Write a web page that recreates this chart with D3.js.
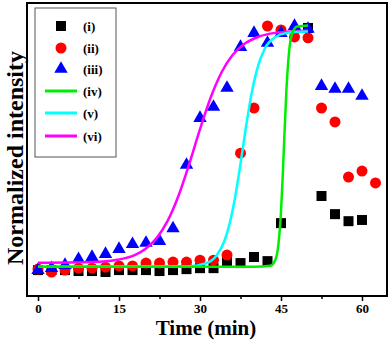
<!DOCTYPE html>
<html>
<head>
<meta charset="utf-8">
<script src="https://cdn.jsdelivr.net/npm/d3@7"></script>
<style>
  body { margin: 0; background: #fff; }
  svg text { font-family: "Liberation Serif", "Times New Roman", serif; font-weight: bold; }
</style>
</head>
<body>
<div id="chart"></div>
<script>
// measured points, time in min
var times = [0, 2.5, 5, 7.5, 10, 12.5, 15, 17.5, 20, 22.5, 25, 27.5, 30, 32.5, 35, 37.5, 40, 42.5, 45, 47.5, 50, 52.5, 55, 57.5, 60, 62.5];
var seriesI = [0, 0, 0, -0.004, -0.004, -0.008, 0, 0, 0, -0.004, 0, 0.004, 0.008, 0.008, 0.033, 0.029, 0.054, 0.037, 0.194, null, 1.0, 0.306, 0.231, 0.202, 0.207, null];
var seriesII = [0.004, -0.008, 0, 0.008, 0.008, 0.012, 0.017, 0.017, 0.029, 0.029, 0.033, 0.033, 0.041, 0.041, 0.062, 0.483, 0.669, 1.008, 0.992, 0.963, 0.959, 0.669, 0.612, 0.384, 0.409, 0.36];
var seriesIII = [0, 0.008, 0.021, 0.045, 0.054, 0.066, 0.087, 0.107, 0.112, 0.12, 0.172, 0.434, 0.628, 0.674, 0.752, 0.921, 0.979, 0.938, 0.979, 1.008, 0.996, 0.76, 0.748, 0.748, 0.719, null];

// fitted curves
var fitIVt = [0, 40, 43, 44, 44.5, 45, 45.3, 45.6, 46, 46.5, 47, 48, 50];
var fitIV = [0.014, 0.014, 0.018, 0.045, 0.102, 0.241, 0.378, 0.54, 0.742, 0.902, 0.972, 1.006, 1.01];
var fitVt = [0, 28, 31, 33, 34.5, 35.5, 36.5, 37.5, 38.5, 39.5, 40.5, 42, 44, 46, 50];
var fitV = [0.014, 0.016, 0.027, 0.058, 0.119, 0.193, 0.301, 0.439, 0.589, 0.723, 0.824, 0.915, 0.963, 0.979, 0.985];
var fitVIt = [0, 10, 15, 18, 20, 22, 24, 26, 28, 30, 32, 34, 36, 38, 41, 44, 47, 50];
var fitVI = [0.03, 0.033, 0.044, 0.063, 0.089, 0.133, 0.203, 0.306, 0.438, 0.582, 0.714, 0.817, 0.887, 0.931, 0.965, 0.98, 0.986, 0.988];

var xTicks = [0, 15, 30, 45, 60];
var xMinor = [7.5, 22.5, 37.5, 52.5];
var legendLabels = ["(i)", "(ii)", "(iii)", "(iv)", "(v)", "(vi)"];

var W = 392, H = 342;
var plot = { left: 27, right: 387, top: 3, bottom: 296 };

var svg = d3.select("#chart").append("svg").attr("width", W).attr("height", H);

var x = d3.scaleLinear().domain([-2.04, 64.63]).range([plot.left, plot.right]);
var y = d3.scaleLinear().domain([-0.107, 1.103]).range([plot.bottom, plot.top]);

function pairs(ts, vs) {
  return ts.map(function (t, i) { return { t: t, v: vs[i] }; }).filter(function (d) { return d.v != null; });
}

// x axis
var xAxis = d3.axisBottom(x).tickValues(xTicks).tickSize(5).tickPadding(3);
var gx = svg.append("g").attr("transform", "translate(0," + plot.bottom + ")").call(xAxis);
gx.select(".domain").remove();
gx.selectAll(".tick line").attr("stroke", "#000").attr("stroke-width", 1.5);
gx.selectAll(".tick text").attr("font-size", 13).attr("fill", "#000")
  .style("font-family", "'Liberation Serif', serif").style("font-weight", "bold");
var gm = svg.append("g").attr("transform", "translate(0," + plot.bottom + ")")
  .call(d3.axisBottom(x).tickValues(xMinor).tickSize(3).tickFormat(""));
gm.select(".domain").remove();
gm.selectAll(".tick line").attr("stroke", "#000").attr("stroke-width", 1.5);

// markers
var sq = d3.symbol().type(d3.symbolSquare).size(100);
var tri = d3.symbol().type(d3.symbolTriangle).size(78);

svg.append("g").selectAll("path").data(pairs(times, seriesI)).join("path")
  .attr("d", sq).attr("fill", "#000")
  .attr("transform", function (d) { return "translate(" + x(d.t) + "," + y(d.v) + ")"; });

svg.append("g").selectAll("circle").data(pairs(times, seriesII)).join("circle")
  .attr("cx", function (d) { return x(d.t); }).attr("cy", function (d) { return y(d.v); })
  .attr("r", 5.5).attr("fill", "#ff0000");

svg.append("g").selectAll("path").data(pairs(times, seriesIII)).join("path")
  .attr("d", tri).attr("fill", "#0000ff")
  .attr("transform", function (d) { return "translate(" + x(d.t) + "," + y(d.v) + ")"; });

// fitted lines
var line = d3.line().x(function (d) { return x(d.t); }).y(function (d) { return y(d.v); })
  .curve(d3.curveMonotoneX);
var fits = [
  { ts: fitVIt, vs: fitVI, color: "#ff00ff" },
  { ts: fitVt, vs: fitV, color: "#00ffff" },
  { ts: fitIVt, vs: fitIV, color: "#00ee00" }
];
fits.forEach(function (f) {
  svg.append("path").datum(pairs(f.ts, f.vs)).attr("d", line)
    .attr("fill", "none").attr("stroke", f.color).attr("stroke-width", 2.5);
});

// frame
svg.append("rect").attr("x", plot.left).attr("y", plot.top)
  .attr("width", plot.right - plot.left).attr("height", plot.bottom - plot.top)
  .attr("fill", "none").attr("stroke", "#000").attr("stroke-width", 2);

// legend
var lg = svg.append("g");
lg.append("rect").attr("x", 35).attr("y", 8).attr("width", 81).attr("height", 149)
  .attr("fill", "#fff").attr("stroke", "#555").attr("stroke-width", 1);
var rowY = [26, 48, 69, 91, 113, 136];
lg.append("path").attr("d", sq).attr("fill", "#000").attr("transform", "translate(61," + rowY[0] + ")");
lg.append("circle").attr("cx", 61).attr("cy", rowY[1]).attr("r", 5.5).attr("fill", "#ff0000");
lg.append("path").attr("d", tri).attr("fill", "#0000ff").attr("transform", "translate(61," + rowY[2] + ")");
[fits[2], fits[1], fits[0]].forEach(function (f, i) {
  lg.append("line").attr("x1", 45).attr("x2", 77).attr("y1", rowY[3 + i]).attr("y2", rowY[3 + i])
    .attr("stroke", f.color).attr("stroke-width", 3);
});
lg.selectAll("text").data(legendLabels).join("text")
  .attr("x", 83).attr("y", function (d, i) { return rowY[i] + 4.5; })
  .attr("font-size", 13).text(function (d) { return d; });

// axis titles
svg.append("text").attr("x", 206).attr("y", 335).attr("text-anchor", "middle")
  .attr("font-size", 21).text("Time (min)");
svg.append("text").attr("transform", "translate(23,158) rotate(-90)").attr("text-anchor", "middle")
  .attr("font-size", 24).text("Normalized intensity");
</script>
</body>
</html>
